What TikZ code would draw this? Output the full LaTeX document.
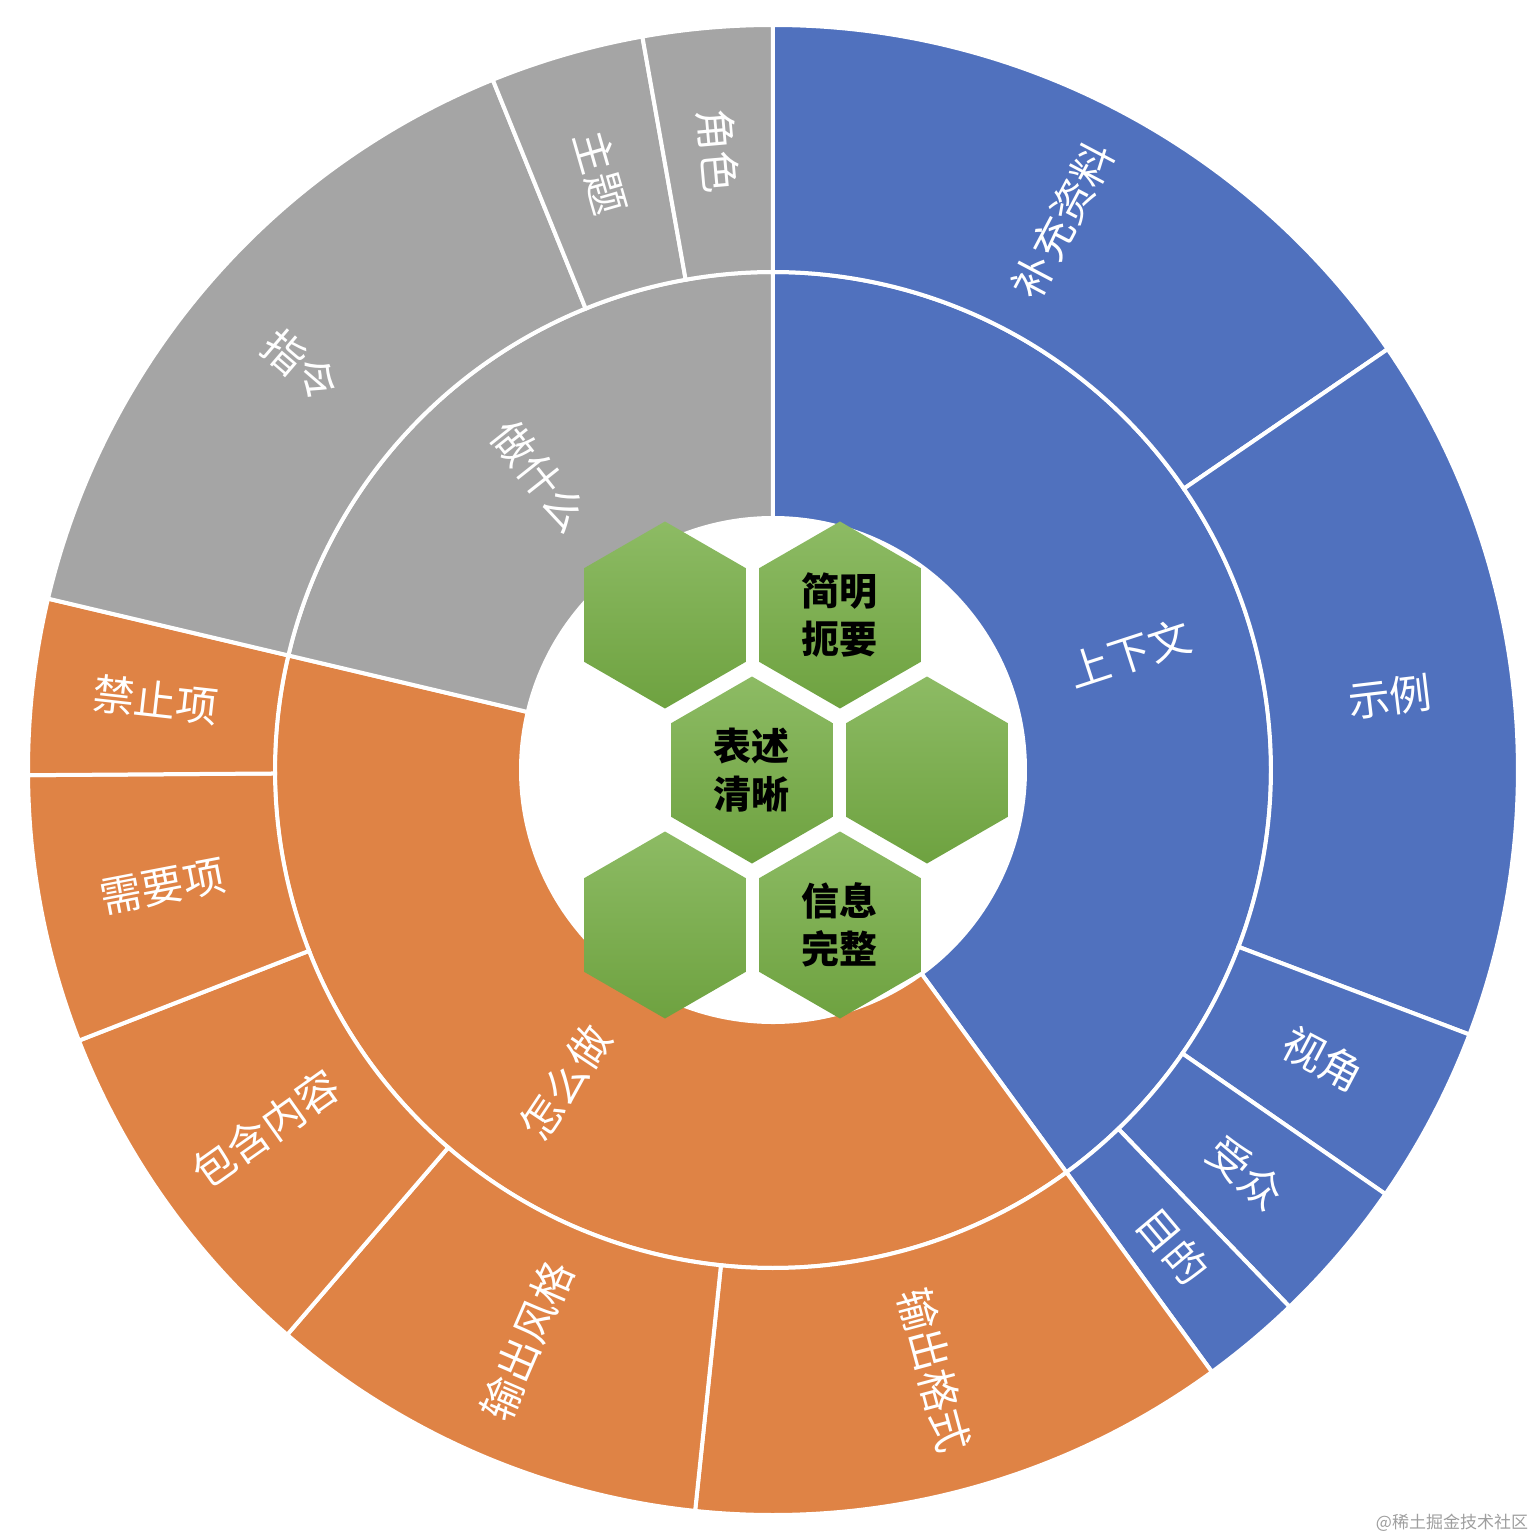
\documentclass[tikz,border=0pt]{standalone}
\usepackage{fontspec}
\usepackage{tikz}
\usetikzlibrary{shapes.geometric}
\newfontfamily\cjk{Noto Sans CJK SC}
\definecolor{ctxBlue}{RGB}{80,113,190}
\definecolor{howOrange}{RGB}{223,131,69}
\definecolor{whatGray}{RGB}{165,165,165}
\definecolor{hexTop}{RGB}{141,187,100}
\definecolor{hexBottom}{RGB}{110,162,64}

\begin{document}
\begin{tikzpicture}[
        x=1pt, y=1pt,
        seg/.style={draw=white, line width=4pt},
        lab/.style={text=white, inner sep=0, font=\cjk\fontsize{42}{50}\selectfont},
        hex/.style={regular polygon, regular polygon sides=6, shape border rotate=30,
            minimum size=187, inner sep=0, top color=hexTop, bottom color=hexBottom,
            align=center, font=\cjk\bfseries\fontsize{38}{48}\selectfont},
        wmark/.style={text=black!38, font=\cjk\fontsize{17}{20}\selectfont}
    ]

        \useasboundingbox (-773,-770) rectangle (763,770);

        \foreach \a/\b/\r/\s/\c/\t/\n in {
            90/-53.9/252/498/ctxBlue/上下文/ringCtx,
            -53.9/-193.3/252/498/howOrange/怎么做/ringHow,
            -193.3/-270/252/498/whatGray/做什么/ringWhat,
            90/34.4/498/745/ctxBlue/补充资料/segMore,
            34.4/-20.8/498/745/ctxBlue/示例/segExample,
            -20.8/-34.7/498/745/ctxBlue/视角/segView,
            -34.7/-46.1/498/745/ctxBlue/受众/segAudience,
            -46.1/-53.9/498/745/ctxBlue/目的/segGoal,
            -53.9/-96/498/745/howOrange/输出格式/segFormat,
            -96/-130.7/498/745/howOrange/输出风格/segStyle,
            -130.7/-158.7/498/745/howOrange/包含内容/segContent,
            -158.7/-179.6/498/745/howOrange/需要项/segMust,
            -179.6/-193.3/498/745/howOrange/禁止项/segForbid,
            -193.3/-247.9/498/745/whatGray/指令/segOrder,
            -247.9/-259.9/498/745/whatGray/主题/segTopic,
            -259.9/-270/498/745/whatGray/角色/segRole} {
            \filldraw[seg, fill=\c] (\a:\r) arc[start angle=\a, end angle=\b, radius=\r]
                -- (\b:\s) arc[start angle=\b, end angle=\a, radius=\s] -- cycle;
            \pgfmathsetmacro\m{(\a+\b)/2}
            \pgfmathsetmacro\rot{cos(\m)<0 ? \m+180 : \m}
            \node[lab, rotate=\rot] (\n) at (\m:{(\r+\s)/2}) {\t};
        }

        \node[hex] (hexTopLeft) at (-108,155) {};
        \node[hex] (hexBrief) at (67,155) {简明\\扼要};
        \node[hex] (hexClear) at (-21,0) {表述\\清晰};
        \node[hex] (hexRight) at (154,0) {};
        \node[hex] (hexBottomLeft) at (-108,-155) {};
        \node[hex] (hexFull) at (67,-155) {信息\\完整};

        \node[wmark] (watermark) at (679,-753) {@稀土掘金技术社区};

    \end{tikzpicture}
\end{document}
